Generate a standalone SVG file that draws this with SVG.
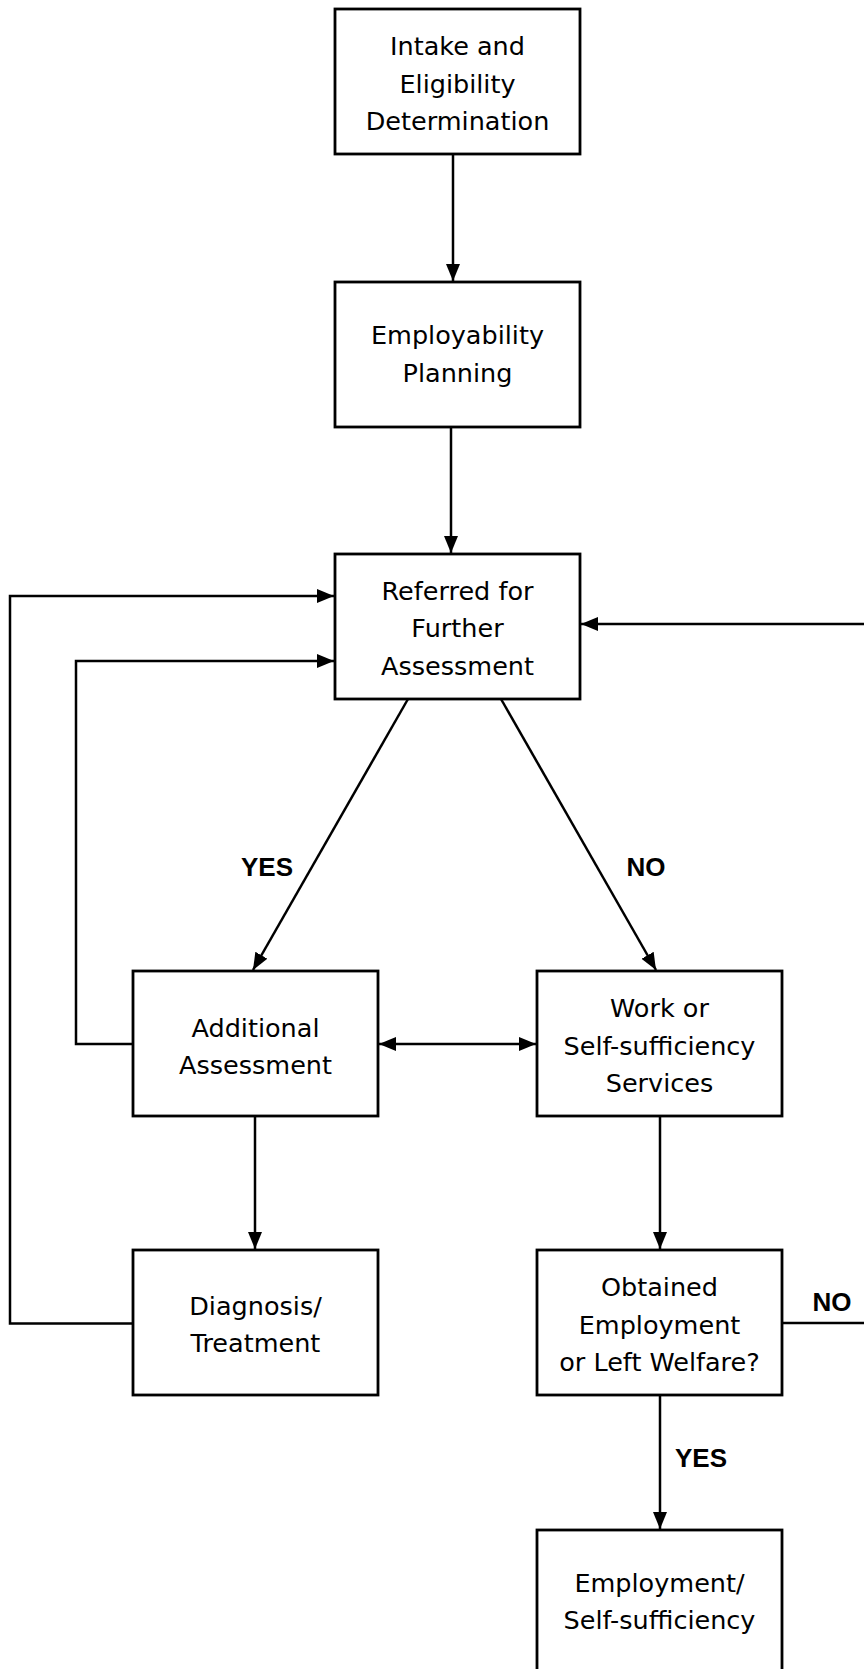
<svg xmlns="http://www.w3.org/2000/svg" width="864" height="1669" viewBox="0 0 864 1669">
<style>
.box{fill:#fff;stroke:#000;stroke-width:2.8}
.t{font-family:"DejaVu Sans",sans-serif;font-size:25.5px;fill:#000;text-anchor:middle}
.lbl{font-family:"Liberation Sans",Arial,sans-serif;font-weight:bold;font-size:26px;fill:#000;text-anchor:middle}
.c{fill:none;stroke:#000;stroke-width:2.5}
</style>
<defs>
<marker id="ah" markerUnits="userSpaceOnUse" markerWidth="19" markerHeight="16" refX="17" refY="7" orient="auto-start-reverse">
<path d="M0,0 L17,7 L0,14 Z" fill="#000"/>
</marker>
</defs>
<rect width="864" height="1669" fill="#fff"/>
<g id="connectors">
<line class="c" x1="453" y1="154" x2="453" y2="281" marker-end="url(#ah)"/>
<line class="c" x1="451" y1="427" x2="451" y2="553" marker-end="url(#ah)"/>
<line class="c" x1="408" y1="699" x2="253" y2="970" marker-end="url(#ah)"/>
<line class="c" x1="501" y1="699" x2="656" y2="970" marker-end="url(#ah)"/>
<line class="c" x1="379" y1="1044" x2="536" y2="1044" marker-start="url(#ah)" marker-end="url(#ah)"/>
<line class="c" x1="255" y1="1116" x2="255" y2="1249" marker-end="url(#ah)"/>
<line class="c" x1="660" y1="1116" x2="660" y2="1249" marker-end="url(#ah)"/>
<line class="c" x1="660" y1="1395" x2="660" y2="1529" marker-end="url(#ah)"/>
<path class="c" d="M782,1323 H880 V624 H581" marker-end="url(#ah)"/>
<path class="c" d="M133,1323.5 H10 V596 H334" marker-end="url(#ah)"/>
<path class="c" d="M133,1044 H76 V661 H334" marker-end="url(#ah)"/>
<text class="lbl" x="267" y="876">YES</text>
<text class="lbl" x="646" y="876">NO</text>
<text class="lbl" x="832" y="1311">NO</text>
<text class="lbl" x="701" y="1467">YES</text>
</g>
<g id="intake">
<rect class="box" x="335" y="9" width="245" height="145"/>
<text class="t" x="457.5" y="55">Intake and</text>
<text class="t" x="457.5" y="92.5">Eligibility</text>
<text class="t" x="457.5" y="130">Determination</text>
</g>
<g id="employability">
<rect class="box" x="335" y="282" width="245" height="145"/>
<text class="t" x="457.5" y="344">Employability</text>
<text class="t" x="457.5" y="381.5">Planning</text>
</g>
<g id="referred">
<rect class="box" x="335" y="554" width="245" height="145"/>
<text class="t" x="457.5" y="599.5">Referred for</text>
<text class="t" x="457.5" y="637">Further</text>
<text class="t" x="457.5" y="674.5">Assessment</text>
</g>
<g id="additional">
<rect class="box" x="133" y="971" width="245" height="145"/>
<text class="t" x="255.5" y="1036.5">Additional</text>
<text class="t" x="255.5" y="1074">Assessment</text>
</g>
<g id="work">
<rect class="box" x="537" y="971" width="245" height="145"/>
<text class="t" x="659.5" y="1017">Work or</text>
<text class="t" x="659.5" y="1054.5">Self-sufficiency</text>
<text class="t" x="659.5" y="1092">Services</text>
</g>
<g id="diagnosis">
<rect class="box" x="133" y="1250" width="245" height="145"/>
<text class="t" x="255.5" y="1314.5">Diagnosis/</text>
<text class="t" x="255.5" y="1352">Treatment</text>
</g>
<g id="obtained">
<rect class="box" x="537" y="1250" width="245" height="145"/>
<text class="t" x="659.5" y="1296">Obtained</text>
<text class="t" x="659.5" y="1333.5">Employment</text>
<text class="t" x="659.5" y="1371">or Left Welfare?</text>
</g>
<g id="employment">
<rect class="box" x="537" y="1530" width="245" height="145"/>
<text class="t" x="659.5" y="1591.5">Employment/</text>
<text class="t" x="659.5" y="1628.5">Self-sufficiency</text>
</g>
</svg>
